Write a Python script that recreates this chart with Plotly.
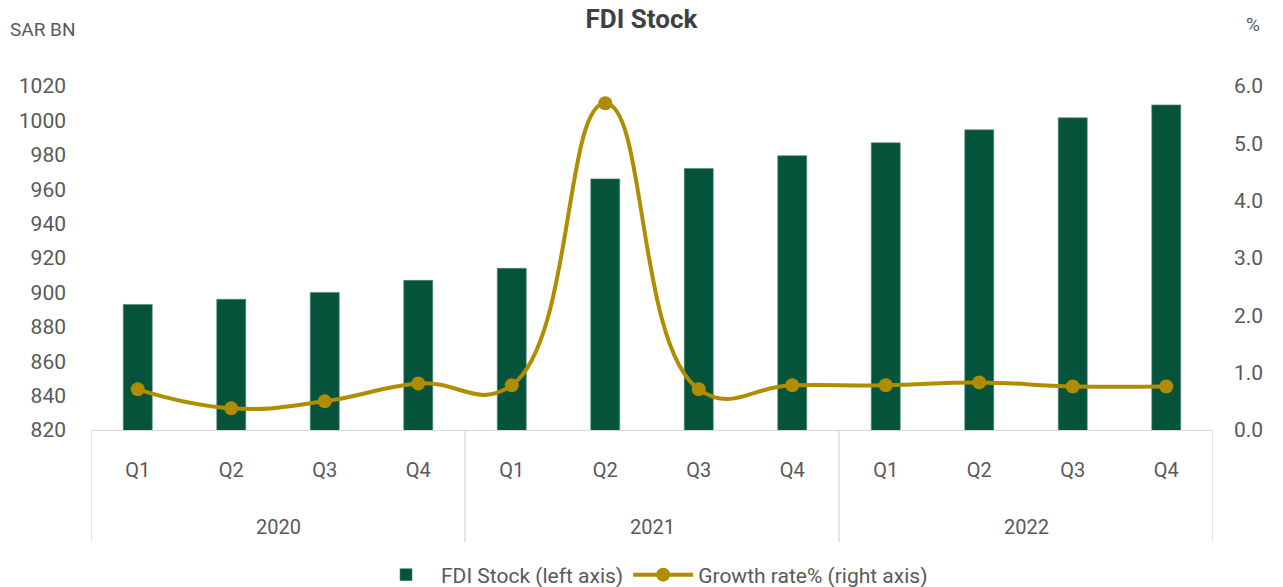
import plotly.graph_objects as go

years = ["2020"] * 4 + ["2021"] * 4 + ["2022"] * 4
quarters = ["Q1", "Q2", "Q3", "Q4"] * 3
fdi_stock = [893, 896, 900, 907, 914, 966, 972, 979.5, 987, 994.5, 1001.5, 1009]
growth = [0.71, 0.38, 0.50, 0.81, 0.78, 5.70, 0.71, 0.78, 0.78, 0.83, 0.76, 0.76]

FONT = "Roboto, sans-serif"
GRAY = "#595959"
LINE = "#D9D9D9"

cats = [f"{q} {y}" for q, y in zip(quarters, years)]

L, R, T, B = 91, 70, 86, 157
W, H = 1283, 587
pw, ph = W - L - R, H - T - B

def py(yp):
    return (H - B - yp) / ph

def px(xp):
    return (xp - L) / pw

fig = go.Figure()
fig.add_trace(go.Bar(
    x=cats, y=fdi_stock, name="FDI Stock (left axis)",
    marker=dict(color="#04533A", line=dict(color="#4E8A72", width=0.6)),
    yaxis="y",
))
fig.add_trace(go.Scatter(
    x=cats, y=growth, name="Growth rate% (right axis)",
    mode="lines+markers",
    line=dict(color="#AF8C00", width=4, shape="spline", smoothing=1.3),
    marker=dict(color="#AF8C00", size=14),
    yaxis="y2",
))

fig.update_layout(
    width=W, height=H,
    margin=dict(l=L, r=R, t=T, b=B, autoexpand=False),
    paper_bgcolor="white", plot_bgcolor="white",
    font=dict(family=FONT, size=20, color=GRAY),
    title=dict(text="<b>FDI Stock</b>", x=0.5, xanchor="center", y=1 - 19 / H, yanchor="middle",
               font=dict(family=FONT, size=26, color="#404040")),
    bargap=0.69,
    showlegend=True,
    legend=dict(orientation="h", x=0.5, xanchor="center", y=py(575), yanchor="middle",
                font=dict(size=21, color=GRAY), itemwidth=60, tracegroupgap=0),
    xaxis=dict(type="category", categoryorder="array", categoryarray=cats,
               tickvals=cats, ticktext=quarters, range=[-0.5, len(cats) - 0.5],
               showline=True, linecolor=LINE, linewidth=1.3,
               ticks="", ticklabelstandoff=22, automargin=False,
               tickfont=dict(size=20, color=GRAY), showgrid=False),
    yaxis=dict(range=[820, 1020], dtick=20, showgrid=False, zeroline=False,
               showline=False, ticks="", ticklabelstandoff=24, automargin=False,
               tickfont=dict(size=21, color=GRAY)),
    yaxis2=dict(range=[0, 6], dtick=1, tickformat=".1f", overlaying="y", side="right",
                showgrid=False, zeroline=False, showline=False, ticks="",
                ticklabelstandoff=20, automargin=False,
                tickfont=dict(size=21, color=GRAY)),
)

# year group labels and dividers
uniq = []
for y in years:
    if y not in uniq:
        uniq.append(y)
for yr in uniq:
    idx = [i for i, v in enumerate(years) if v == yr]
    fig.add_annotation(text=yr, x=(idx[0] + idx[-1]) / 2, y=py(527), xref="x", yref="paper",
                       showarrow=False, xanchor="center", yanchor="middle",
                       font=dict(size=20, color=GRAY))
    fig.add_shape(type="line", xref="x", yref="paper", x0=idx[0] - 0.5, x1=idx[0] - 0.5,
                  y0=0, y1=py(542), line=dict(color=LINE, width=1.3))
fig.add_shape(type="line", xref="x", yref="paper", x0=len(years) - 0.5, x1=len(years) - 0.5,
              y0=0, y1=py(542), line=dict(color=LINE, width=1.3))

fig.add_annotation(text="SAR BN", x=px(8), y=py(30), xref="paper", yref="paper", showarrow=False,
                   xanchor="left", yanchor="middle", font=dict(size=19, color=GRAY))
fig.add_annotation(text="%", x=px(1253), y=py(25), xref="paper", yref="paper", showarrow=False,
                   xanchor="center", yanchor="middle", font=dict(size=19, color=GRAY))

fig.write_html("out.html", config={"displayModeBar": False},
               post_script="document.body.style.margin='0';document.body.style.overflow='hidden';")
